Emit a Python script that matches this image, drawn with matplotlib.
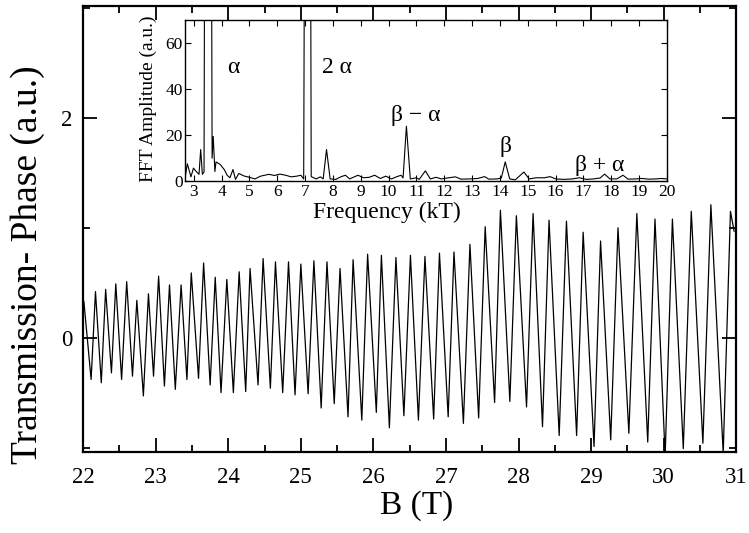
import matplotlib
matplotlib.use("Agg")
import matplotlib.pyplot as plt
from matplotlib.ticker import MultipleLocator

plt.rcParams['font.family'] = ['Liberation Serif', 'DejaVu Serif']

# main trace: extrema
b_field = [22.01, 22.11, 22.17, 22.25, 22.31, 22.39, 22.45, 22.53, 22.60, 22.68, 22.74, 22.83, 22.90, 22.97,
           23.04, 23.12, 23.19, 23.27, 23.35, 23.43, 23.49,
           23.59, 23.66, 23.75, 23.82, 23.90, 23.98, 24.07, 24.15, 24.24, 24.30, 24.41, 24.48, 24.58, 24.65,
           24.75, 24.83, 24.92, 25.00,
           25.10, 25.18, 25.28, 25.36, 25.46, 25.54, 25.65, 25.72, 25.84, 25.92, 26.04, 26.11, 26.22, 26.31,
           26.42, 26.51,
           26.62, 26.71, 26.83, 26.91, 27.03, 27.11, 27.24, 27.33, 27.45, 27.54, 27.67, 27.75, 27.88, 27.97,
           28.11, 28.20, 28.33, 28.42, 28.56, 28.66, 28.80, 28.89, 29.04, 29.13, 29.27, 29.37, 29.52,
           29.63, 29.78, 29.88, 30.02, 30.12, 30.27, 30.38, 30.54, 30.65, 30.82, 30.92, 30.97]
phase = [0.33, -0.38, 0.42, -0.41, 0.44, -0.32, 0.49, -0.38, 0.51, -0.35, 0.34, -0.53, 0.40, -0.35,
         0.56, -0.44, 0.48, -0.47, 0.48, -0.38, 0.59,
         -0.37, 0.68, -0.43, 0.55, -0.50, 0.53, -0.50, 0.60, -0.49, 0.63, -0.43, 0.72, -0.46, 0.69,
         -0.50, 0.69, -0.52, 0.67,
         -0.51, 0.70, -0.64, 0.69, -0.60, 0.63, -0.72, 0.71, -0.75, 0.76, -0.68, 0.75, -0.82, 0.73,
         -0.71, 0.75,
         -0.75, 0.74, -0.74, 0.77, -0.72, 0.78, -0.78, 0.85, -0.73, 1.01, -0.59, 1.16, -0.58, 1.11,
         -0.63, 1.13, -0.81, 1.07, -0.89, 1.06, -0.89, 0.96, -0.99, 0.88, -0.93, 1.00, -0.87,
         1.13, -0.95, 1.08, -1.08, 1.08, -1.01, 1.15, -0.96, 1.21, -1.05, 1.15, 0.97]

# FFT spectrum (inset)
fft_freq = [2.71, 2.77, 2.90, 2.99, 3.09, 3.19, 3.25, 3.31, 3.37, 3.40, 3.63, 3.66, 3.70, 3.76, 3.80,
            3.95, 4.10, 4.20, 4.30, 4.41, 4.50, 4.62, 4.80, 5.00, 5.20, 5.40, 5.70, 5.90, 6.10, 6.30,
            6.50, 6.70, 6.85, 6.95, 7.00, 7.18, 7.22, 7.40, 7.55, 7.65, 7.77, 7.90, 8.10, 8.30, 8.45,
            8.60, 8.90, 9.10, 9.30, 9.50, 9.70, 9.90, 10.10, 10.30, 10.45, 10.52, 10.64, 10.78, 11.00,
            11.10, 11.32, 11.50, 11.70, 11.90, 12.10, 12.40, 12.60, 12.90, 13.20, 13.45, 13.60, 13.90,
            14.05, 14.19, 14.35, 14.55, 14.86, 15.05, 15.30, 15.60, 15.80, 16.00, 16.30, 16.60, 16.85,
            17.10, 17.35, 17.60, 17.76, 17.95, 18.20, 18.42, 18.60, 18.85, 19.10, 19.35, 19.60, 19.80,
            20.00]
fft_amp = [3.0, 7.6, 1.9, 5.7, 4.2, 3.0, 13.8, 3.0, 4.0, 150, 150, 10.0, 19.5, 4.2, 8.4,
           7.3, 5.0, 2.6, 1.5, 5.1, 0.8, 3.4, 2.3, 1.7, 1.0, 2.2, 3.0, 2.5, 3.1, 2.6,
           1.9, 2.2, 2.6, 1.0, 200, 200, 2.0, 1.0, 1.9, 1.0, 13.8, 1.0, 0.8, 2.0, 2.6,
           1.0, 2.6, 1.5, 1.7, 2.6, 1.2, 2.2, 1.0, 2.0, 2.6, 1.4, 23.9, 1.0, 1.5,
           0.8, 4.5, 1.0, 1.7, 1.0, 1.4, 1.9, 0.9, 1.0, 1.2, 2.0, 0.9, 1.0,
           1.4, 8.4, 1.0, 0.6, 4.0, 1.0, 1.5, 1.5, 2.0, 1.0, 0.8, 1.0, 1.5,
           0.8, 1.0, 1.4, 3.1, 1.0, 1.0, 2.6, 0.9, 1.0, 1.2, 0.9, 1.0, 1.2,
           1.0]

peak_labels = ['α', '2 α', 'β − α', 'β', 'β + α']
peak_label_x = [4.41, 8.15, 10.96, 14.2, 17.6]
peak_label_y = [47, 47, 26, 12.7, 4.5]

fig = plt.figure(figsize=(7.49, 5.33), dpi=100)
ax = fig.add_axes([0.111, 0.152, 0.872, 0.837])
ax.plot(b_field, phase, color='black', lw=0.9)
ax.set_xlim(22, 31)
ax.set_ylim(-1.04, 3.02)
ax.xaxis.set_major_locator(MultipleLocator(1))
ax.xaxis.set_minor_locator(MultipleLocator(0.5))
ax.yaxis.set_major_locator(MultipleLocator(2))
ax.yaxis.set_minor_locator(MultipleLocator(1))
ax.tick_params(which='both', direction='in', top=True, right=True, width=1.3)
ax.tick_params(which='major', length=10, labelsize=16.5)
ax.tick_params(which='minor', length=5)
ax.tick_params(axis='x', which='major', pad=11)
ax.tick_params(axis='y', which='major', pad=8)
for s in ax.spines.values():
    s.set_linewidth(1.6)
ax.set_xlabel('B (T)', fontsize=24)
ax.xaxis.set_label_coords(0.511, -0.085)
ax.set_ylabel('Transmission- Phase (a.u.)', fontsize=27)
ax.yaxis.set_label_coords(-0.058, 0.42)

# inset with the FFT
ins = fig.add_axes([0.2475, 0.660, 0.643, 0.302])
ins.plot(fft_freq, fft_amp, color='black', lw=0.8)
ins.set_xlim(2.7, 20)
ins.set_ylim(0, 70)
ins.xaxis.set_major_locator(MultipleLocator(1))
ins.yaxis.set_major_locator(MultipleLocator(20))
ins.tick_params(which='both', direction='in', top=True, right=True, length=4, width=0.8,
                labelsize=12.5, pad=2)
for s in ins.spines.values():
    s.set_linewidth(1.0)
ins.set_xlabel('Frequency (kT)', fontsize=17)
ins.xaxis.set_label_coords(0.418, -0.125)
ins.set_ylabel('FFT Amplitude (a.u.)', fontsize=14)
ins.yaxis.set_label_coords(-0.058, 0.514)
for lab, lx, ly in zip(peak_labels, peak_label_x, peak_label_y):
    ins.text(lx, ly, lab, fontsize=17, ha='center', va='baseline')

fig.savefig('out.png', dpi=100)
